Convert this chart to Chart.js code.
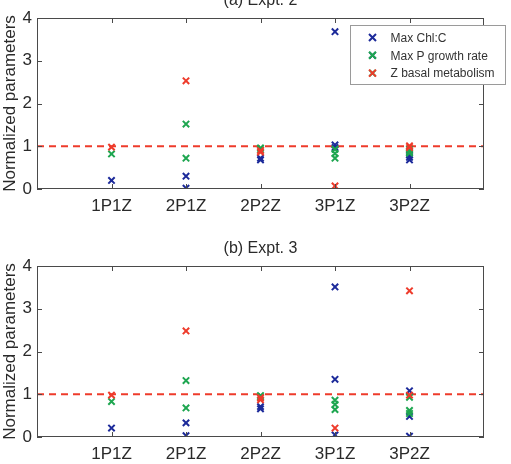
<!DOCTYPE html>
<html lang="en">
<head>
    <meta charset="UTF-8">
    <title>Normalized parameters, Expt. 2 and Expt. 3</title>
    <script src="https://cdn.jsdelivr.net/npm/chart.js"></script>
    <style>
        body { margin: 0; background: #fff; }
        .panel { position: relative; width: 511px; height: 232px; }
    </style>
</head>
<body>
    <div class="panel"><canvas id="expt2Chart"></canvas></div>
    <div class="panel"><canvas id="expt3Chart"></canvas></div>
    <script>
        const categories = ['1P1Z', '2P1Z', '2P2Z', '3P1Z', '3P2Z'];
        const yTicks = [0, 1, 2, 3, 4];
        const seriesNames = ['Max Chl:C', 'Max P growth rate', 'Z basal metabolism'];
        const refLevel = 1;

        // values per category (one entry per phytoplankton / zooplankton group)
        const expt2ChlC   = [[0.2], [0.3, 0.02], [0.68, 0.72], [3.68, 1.03, 0.97], [0.68, 0.74, 0.8]];
        const expt2Growth = [[0.82], [1.52, 0.72], [0.96, 0.92], [0.93, 0.83, 0.72], [0.84, 0.88, 0.93]];
        const expt2Basal  = [[0.98], [2.53], [0.9, 0.86], [0.07], [1.01, 0.97]];

        const expt3ChlC   = [[0.21], [0.33, 0.03], [0.66, 0.71], [3.51, 1.35, 0.05], [1.08, 0.48, 0.02]];
        const expt3Growth = [[0.83], [1.32, 0.68], [0.97, 0.93], [0.86, 0.76, 0.64], [0.93, 0.62, 0.55]];
        const expt3Basal  = [[0.98], [2.48], [0.92, 0.87], [0.21], [3.42, 0.98]];

        const colors = ['#1c2a9a', '#1ea650', '#ee3b2b'];
        const textColor = '#2a2a2a';
        const font = 'Liberation Sans, Arial, Helvetica, sans-serif';

        function toPoints(values) {
            return values.flatMap((list, i) => list.map(v => ({ x: i + 1, y: v })));
        }

        // frame, inward ticks, title and legend, matlab style
        const framePlugin = {
            id: 'framePlugin',
            afterDraw: (chart, args, opts) => {
                const ctx = chart.ctx;
                const a = chart.chartArea;
                const xs = chart.scales.x;
                const ys = chart.scales.y;
                ctx.save();
                ctx.strokeStyle = '#4a4a4a';
                ctx.lineWidth = 1;
                ctx.strokeRect(a.left + 0.5, a.top + 0.5, a.right - a.left - 1, a.bottom - a.top - 1);
                ctx.beginPath();
                categories.forEach((c, i) => {
                    const px = Math.round(xs.getPixelForValue(i + 1)) + 0.5;
                    ctx.moveTo(px, a.bottom); ctx.lineTo(px, a.bottom - 5);
                    ctx.moveTo(px, a.top); ctx.lineTo(px, a.top + 5);
                });
                yTicks.forEach(v => {
                    const py = Math.round(ys.getPixelForValue(v)) + 0.5;
                    ctx.moveTo(a.left, py); ctx.lineTo(a.left + 5, py);
                    ctx.moveTo(a.right, py); ctx.lineTo(a.right - 5, py);
                });
                ctx.stroke();

                ctx.fillStyle = textColor;
                ctx.font = '16px ' + font;
                ctx.textAlign = 'center';
                ctx.textBaseline = 'alphabetic';
                ctx.fillText(opts.title, (a.left + a.right) / 2, a.top - 13);

                if (opts.legend) {
                    const bx = a.right - 133.5, by = a.top + 7.5, bw = 155, bh = 59;
                    ctx.fillStyle = '#fff';
                    ctx.fillRect(bx, by, bw, bh);
                    ctx.strokeStyle = '#9a9a9a';
                    ctx.strokeRect(bx, by, bw, bh);
                    ctx.font = '12px ' + font;
                    ctx.textAlign = 'left';
                    ctx.textBaseline = 'middle';
                    seriesNames.forEach((name, i) => {
                        const ry = by + 12 + i * 17.8;
                        Chart.helpers.drawPoint(ctx, {
                            pointStyle: 'crossRot', radius: 4.5, borderWidth: 2
                        }, bx + 22, ry);
                        ctx.strokeStyle = colors[i];
                        ctx.lineWidth = 2;
                        ctx.beginPath();
                        ctx.moveTo(bx + 18.5, ry - 3.5); ctx.lineTo(bx + 25.5, ry + 3.5);
                        ctx.moveTo(bx + 25.5, ry - 3.5); ctx.lineTo(bx + 18.5, ry + 3.5);
                        ctx.stroke();
                        ctx.fillStyle = '#333';
                        ctx.fillText(name, bx + 40, ry + 1);
                    });
                }
                ctx.restore();
            }
        };

        function makeChart(id, chl, growth, basal, title, legend, topPad, bottomSpace) {
            const series = [chl, growth, basal];
            const datasets = series.map((s, i) => ({
                type: 'scatter',
                label: seriesNames[i],
                data: toPoints(s),
                pointStyle: 'crossRot',
                pointRadius: 4.5,
                pointBorderWidth: 2,
                borderColor: colors[i],
                backgroundColor: colors[i],
                order: 3 - i
            }));
            datasets.push({
                type: 'line',
                label: 'reference',
                data: [{ x: 0, y: refLevel }, { x: categories.length + 1, y: refLevel }],
                borderColor: colors[2],
                borderWidth: 2,
                borderDash: [7, 5],
                pointRadius: 0,
                order: 10
            });

            return new Chart(document.getElementById(id), {
                type: 'scatter',
                data: { datasets: datasets },
                options: {
                    animation: false,
                    responsive: true,
                    maintainAspectRatio: false,
                    devicePixelRatio: 1,
                    layout: { padding: { top: topPad, right: 27, left: 0, bottom: 0 } },
                    scales: {
                        x: {
                            type: 'linear',
                            min: 0,
                            max: categories.length + 1,
                            grid: { display: false, drawTicks: false },
                            border: { display: false },
                            afterBuildTicks: (scale) => {
                                scale.ticks = categories.map((c, i) => ({ value: i + 1 }));
                            },
                            afterFit: (scale) => { scale.height = bottomSpace; },
                            ticks: {
                                padding: 7,
                                autoSkip: false,
                                maxRotation: 0,
                                color: textColor,
                                font: { family: font, size: 17 },
                                callback: (v) => categories[v - 1] || ''
                            }
                        },
                        y: {
                            min: yTicks[0],
                            max: yTicks[yTicks.length - 1],
                            grid: { display: false, drawTicks: false },
                            border: { display: false },
                            afterFit: (scale) => { scale.width = 37; },
                            ticks: {
                                stepSize: 1,
                                padding: 5,
                                color: textColor,
                                font: { family: font, size: 17 }
                            },
                            title: {
                                display: true,
                                text: 'Normalized parameters',
                                color: textColor,
                                font: { family: font, size: 17 },
                                padding: 0
                            }
                        }
                    },
                    plugins: {
                        legend: { display: false },
                        tooltip: { enabled: false },
                        framePlugin: { title: title, legend: legend }
                    }
                },
                plugins: [framePlugin]
            });
        }

        makeChart('expt2Chart', expt2ChlC, expt2Growth, expt2Basal, '(a) Expt. 2', true, 18, 43);
        makeChart('expt3Chart', expt3ChlC, expt3Growth, expt3Basal, '(b) Expt. 3', false, 34, 27);
    </script>
</body>
</html>
